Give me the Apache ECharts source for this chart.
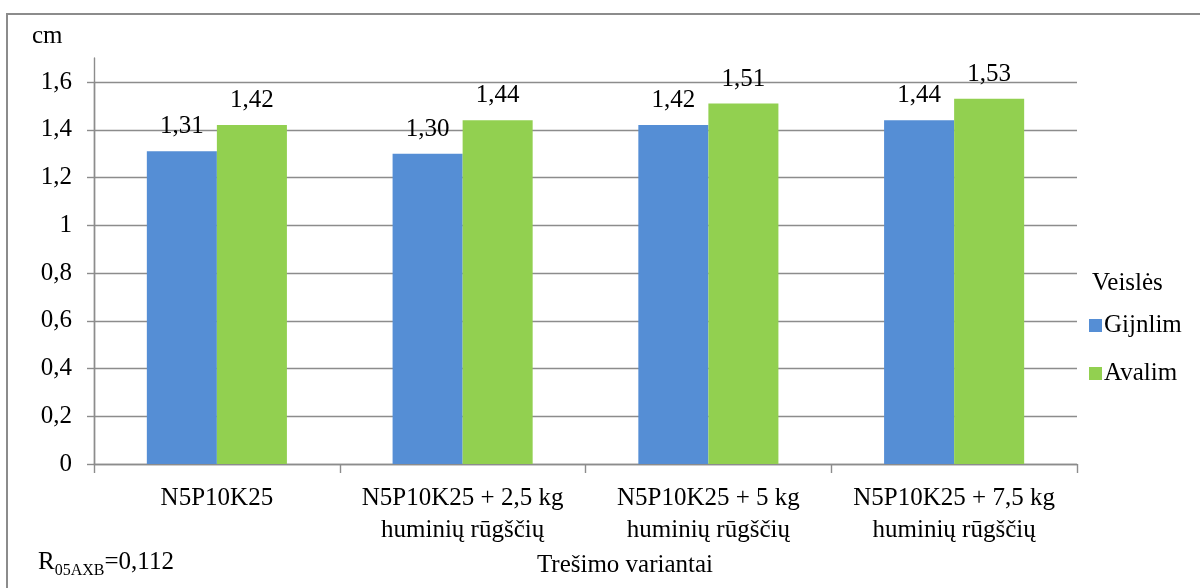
<!DOCTYPE html>
<html>
<head>
<meta charset="utf-8">
<script src="https://cdn.jsdelivr.net/npm/echarts@6/dist/echarts.min.js"></script>
<style>
  html, body { margin: 0; padding: 0; background: #fff; }
  #chart { width: 1200px; height: 588px; }
</style>
</head>
<body>
<div id="chart"></div>
<script>
// Fertilisation variants (x axis categories)
const categories = [
  'N5P10K25',
  'N5P10K25 + 2,5 kg\nhuminių rūgščių',
  'N5P10K25 + 5 kg\nhuminių rūgščių',
  'N5P10K25 + 7,5 kg\nhuminių rūgščių'
];
// Plant measurements, cm, per variety
const gijnlim = [1.31, 1.30, 1.42, 1.44];
const avalim = [1.42, 1.44, 1.51, 1.53];
const seriesNames = ['Gijnlim', 'Avalim'];
const legendTitle = 'Veislės';
const unitLabel = 'cm';
const xTitle = 'Trešimo variantai';

const FONT = '"Liberation Serif", "Times New Roman", "Liberation Sans", sans-serif';
const FS = 25;
const GRID_COLOR = '#8c8c8c';
const fmt = v => v.toFixed(2).replace('.', ',');
const tickFmt = v => (Math.round(v * 10) / 10).toString().replace('.', ',');

const chart = echarts.init(document.getElementById('chart'), null, { renderer: 'canvas' });

const barLabel = {
  show: true,
  position: 'top',
  distance: 12,
  fontFamily: FONT,
  fontSize: FS,
  color: '#000',
  formatter: p => fmt(p.value)
};

chart.setOption({
  animation: false,
  backgroundColor: '#fff',
  textStyle: { fontFamily: FONT },
  grid: [
    { left: 94, right: 123, top: 82, bottom: 124 },
    // taller companion grid: carries the y-axis line above the top gridline
    { left: 94, right: 123, top: 58, bottom: 124 }
  ],
  xAxis: [
    {
      type: 'category',
      gridIndex: 0,
      data: categories,
      axisLine: { lineStyle: { color: GRID_COLOR, width: 1.4 } },
      axisTick: { show: true, length: 9, alignWithLabel: false, lineStyle: { color: GRID_COLOR, width: 1.4 } },
      axisLabel: {
        margin: 18,
        fontFamily: FONT,
        fontSize: FS,
        lineHeight: 32,
        color: '#000',
        interval: 0
      }
    },
    { type: 'category', gridIndex: 1, data: categories, show: false }
  ],
  yAxis: [
    {
      type: 'value',
      gridIndex: 0,
      min: 0,
      max: 1.6,
      interval: 0.2,
      axisLine: { show: true, lineStyle: { color: GRID_COLOR, width: 1.4 } },
      axisTick: { show: true, length: 7, lineStyle: { color: GRID_COLOR, width: 1.4 } },
      splitLine: { show: true, lineStyle: { color: GRID_COLOR, width: 1.4 } },
      axisLabel: {
        margin: 22,
        fontFamily: FONT,
        fontSize: FS,
        color: '#000',
        formatter: tickFmt
      }
    },
    {
      type: 'value',
      gridIndex: 1,
      min: 0,
      max: 1.7,
      axisLine: { show: true, lineStyle: { color: GRID_COLOR, width: 1.4 } },
      axisTick: { show: false },
      axisLabel: { show: false },
      splitLine: { show: false }
    }
  ],
  legend: {
    orient: 'vertical',
    left: 1084,
    top: 308,
    itemWidth: 13,
    itemHeight: 13,
    itemGap: 23,
    icon: 'rect',
    data: seriesNames,
    textStyle: { fontFamily: FONT, fontSize: FS, color: '#000', padding: [0, 0, 0, -3] }
  },
  series: [
    {
      name: seriesNames[0],
      type: 'bar',
      xAxisIndex: 0,
      yAxisIndex: 0,
      data: gijnlim,
      itemStyle: { color: '#558ed5' },
      barGap: '0%',
      barCategoryGap: '43%',
      label: barLabel
    },
    {
      name: seriesNames[1],
      type: 'bar',
      xAxisIndex: 0,
      yAxisIndex: 0,
      data: avalim,
      itemStyle: { color: '#92d050' },
      label: barLabel
    }
  ],
  graphic: [
    {
      type: 'rect',
      shape: { x: 7, y: 14, width: 1210, height: 600 },
      style: { fill: 'none', stroke: '#8c8c8c', lineWidth: 2 },
      silent: true,
      z: -1
    },
    {
      type: 'text',
      left: 32,
      top: 24,
      style: { text: unitLabel, fontFamily: FONT, fontSize: FS, fill: '#000' }
    },
    {
      type: 'text',
      left: 1092,
      top: 271,
      style: { text: legendTitle, fontFamily: FONT, fontSize: FS, fill: '#000' }
    },
    {
      type: 'text',
      x: 625,
      y: 565,
      style: {
        text: xTitle,
        fontFamily: FONT,
        fontSize: FS,
        fill: '#000',
        align: 'center',
        verticalAlign: 'middle'
      }
    },
    {
      type: 'text',
      left: 38,
      top: 550,
      style: {
        text: '{r|R}{s|05AXB}{r|=0,112}',
        rich: {
          r: { fontFamily: FONT, fontSize: FS, fill: '#000', verticalAlign: 'bottom', lineHeight: 30 },
          s: { fontFamily: FONT, fontSize: 16, fill: '#000', verticalAlign: 'bottom', lineHeight: 22, padding: [0, 0, -4, 0] }
        }
      }
    }
  ]
});
</script>
</body>
</html>
